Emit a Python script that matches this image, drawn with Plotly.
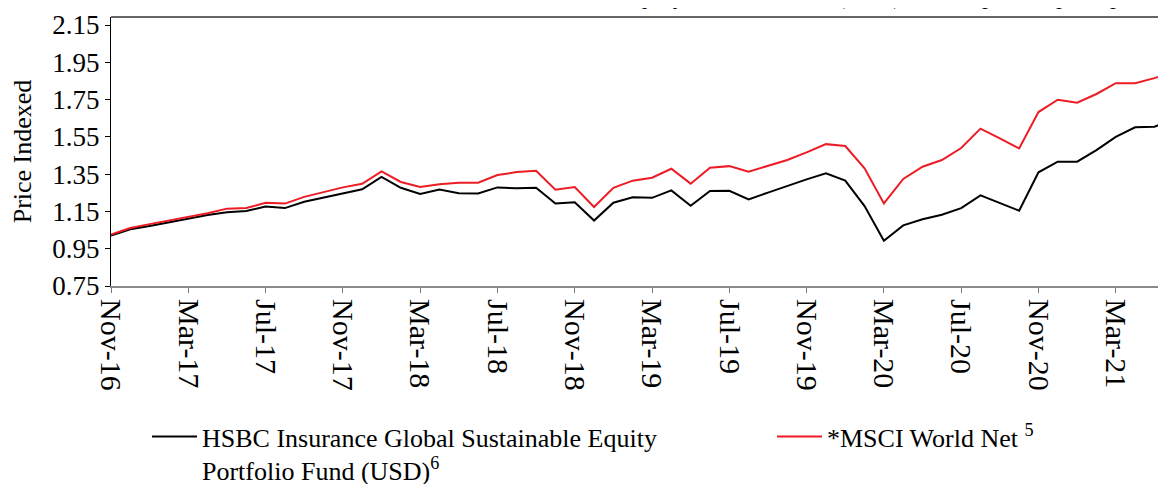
import plotly.graph_objects as go

months = ["Nov-16","Dec-16","Jan-17","Feb-17","Mar-17","Apr-17","May-17","Jun-17","Jul-17","Aug-17","Sep-17","Oct-17",
          "Nov-17","Dec-17","Jan-18","Feb-18","Mar-18","Apr-18","May-18","Jun-18","Jul-18","Aug-18","Sep-18","Oct-18",
          "Nov-18","Dec-18","Jan-19","Feb-19","Mar-19","Apr-19","May-19","Jun-19","Jul-19","Aug-19","Sep-19","Oct-19",
          "Nov-19","Dec-19","Jan-20","Feb-20","Mar-20","Apr-20","May-20","Jun-20","Jul-20","Aug-20","Sep-20","Oct-20",
          "Nov-20","Dec-20","Jan-21","Feb-21","Mar-21","Apr-21","May-21","Jun-21"]

fund = [1.020,1.054,1.072,1.092,1.109,1.131,1.146,1.152,1.176,1.168,1.202,1.224,
        1.250,1.269,1.335,1.277,1.244,1.268,1.248,1.246,1.279,1.274,1.277,1.193,
        1.199,1.101,1.197,1.226,1.223,1.263,1.180,1.260,1.261,1.215,1.251,1.288,
        1.322,1.354,1.315,1.179,0.993,1.075,1.108,1.132,1.168,1.236,1.197,1.154,
        1.360,1.417,1.417,1.479,1.550,1.601,1.604,1.644]

msci = [1.026,1.061,1.082,1.102,1.120,1.140,1.165,1.168,1.196,1.192,1.228,1.253,
        1.279,1.298,1.365,1.308,1.281,1.296,1.304,1.304,1.345,1.361,1.368,1.266,
        1.281,1.174,1.277,1.315,1.331,1.379,1.299,1.384,1.393,1.363,1.395,1.426,
        1.467,1.511,1.501,1.381,1.193,1.324,1.390,1.426,1.490,1.594,1.542,1.488,
        1.683,1.749,1.733,1.780,1.838,1.838,1.865,1.896]

tick_labels = months[::4]
y_ticks = [0.75, 0.95, 1.15, 1.35, 1.55, 1.75, 1.95, 2.15]

fund_name = "HSBC Insurance Global Sustainable Equity<br>Portfolio Fund (USD)<sup>6</sup>"
msci_name = "*MSCI World Net <sup>5</sup>"
title_text = "Sustainable Equity Portfolio Fund (USD) vs. comparator price performance"

FONT = "Liberation Serif, Times New Roman, serif"
# the page body adds an 8px offset; plot area sits at page x 111..1166, y 17..286
PAGE_OFF = 8
PL, PW, PB, PH = 111, 1055, 286, 269

fig = go.Figure()
fig.add_trace(go.Scatter(x=months, y=fund, mode="lines", name=fund_name, legend="legend",
                         line=dict(color="#000000", width=2)))
fig.add_trace(go.Scatter(x=months, y=msci, mode="lines", name=msci_name, legend="legend2",
                         line=dict(color="#ed1c24", width=2)))

leg_y = -(413 - PB) / PH
leg_common = dict(orientation="h", yanchor="top", y=leg_y, valign="top", itemwidth=45,
                  font=dict(family=FONT, size=26, color="#000000"),
                  bgcolor="rgba(0,0,0,0)", itemclick=False, itemdoubleclick=False)

fig.update_layout(
    width=1166 - PAGE_OFF, height=484 - PAGE_OFF,
    margin=dict(l=PL - PAGE_OFF, r=0, t=17 - PAGE_OFF, b=484 - PB, autoexpand=False),
    paper_bgcolor="white", plot_bgcolor="white",
    font=dict(family=FONT, color="#000000", size=26),
    showlegend=True,
    legend=dict(x=(147 - PL) / PW, xanchor="left", **leg_common),
    legend2=dict(x=(772 - PL) / PW, xanchor="left", **leg_common),
    xaxis=dict(type="category", range=[0, 54.6], tickmode="array",
               tickvals=tick_labels, ticktext=tick_labels, tickangle=90,
               ticks="outside", ticklen=5, tickcolor="#777777",
               showline=True, linecolor="#8a8a8a", linewidth=2,
               showgrid=False, zeroline=False,
               tickfont=dict(family=FONT, size=30, color="#000000")),
    yaxis=dict(range=[0.75, 2.193], tickmode="array", tickvals=y_ticks,
               tickformat=".2f", ticks="outside", ticklen=5, tickcolor="#000000",
               showline=True, linecolor="#000000", linewidth=1,
               showgrid=False, zeroline=False,
               title=dict(text="Price Indexed", font=dict(family=FONT, size=26), standoff=24),
               tickfont=dict(family=FONT, size=27, color="#000000")),
    shapes=[dict(type="line", xref="paper", yref="paper", x0=0, x1=1, y0=1, y1=1,
                 line=dict(color="#333333", width=1.5))],
    annotations=[dict(text=title_text, xref="paper", yref="paper", x=(502 - PL) / PW, y=1.0,
                      xanchor="left", yanchor="bottom", yshift=6, showarrow=False,
                      font=dict(family=FONT, size=24, color="#000000"))],
)

fig.write_html("out.html")
